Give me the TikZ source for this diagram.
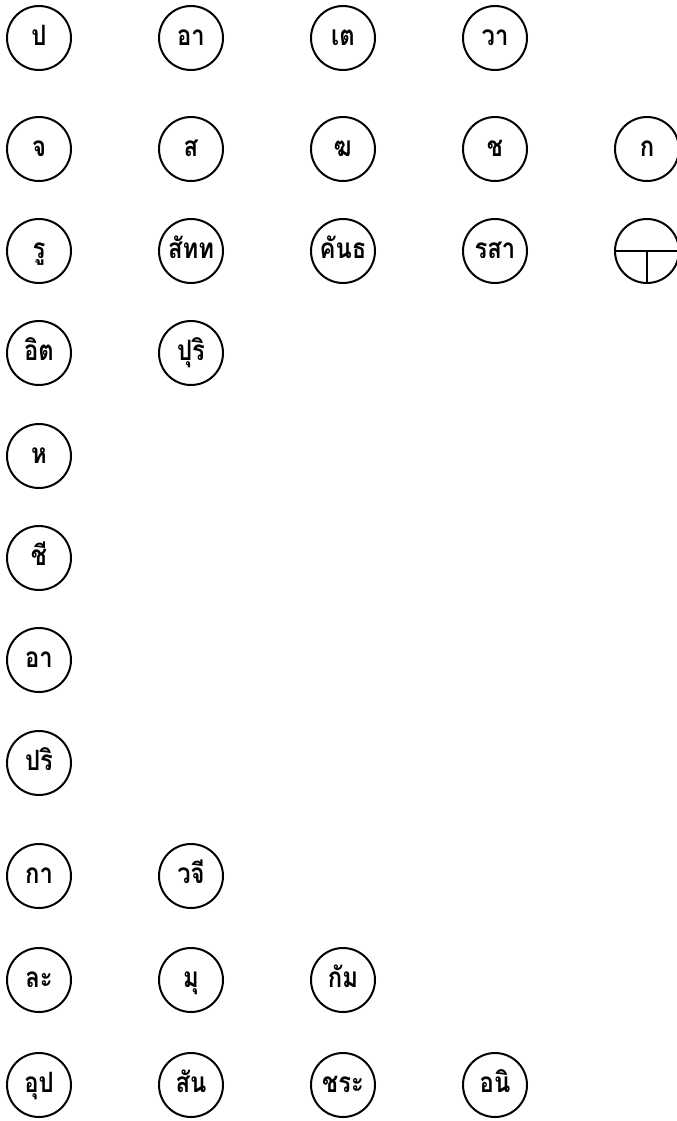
\documentclass[tikz,border=0pt]{standalone}
\usepackage{fontspec}
\newfontfamily\thaifont[Script=Thai,FakeStretch=0.85]{Loma}
\usetikzlibrary{positioning}

\begin{document}
\begin{tikzpicture}[font=\thaifont\bfseries\fontsize{21pt}{24pt}\selectfont,
    unit/.style={draw,circle,line width=1.5pt,minimum size=48pt,inner sep=0pt,
                 text height=11pt,text depth=0pt},
    node distance=76.5pt and 114pt, on grid]
  \useasboundingbox[fill=white] (0,0) rectangle (507pt,-840.75pt);
  % four great elements
  \node[unit] (pa) at (29.25pt,-28.5pt) {ป};
  \node[unit,right=of pa] (apo) {อา};
  \node[unit,right=of apo] (tejo) {เต};
  \node[unit,right=of tejo] (vayo) {วา};
  % sense organs
  \node[unit,below=83.25pt of pa] (cak) {จ};
  \node[unit,right=of cak] (sota) {ส};
  \node[unit,right=of sota] (ghana) {ฆ};
  \node[unit,right=of ghana] (jivha) {ช};
  \node[unit,right=of jivha] (kaya) {ก};
  % sense objects
  \node[unit,below=of cak] (rupa) {รู};
  \node[unit,right=of rupa] (sadda) {สัทท};
  \node[unit,right=of sadda] (gandha) {คันธ};
  \node[unit,right=of gandha] (rasa) {รสา};
  \node[unit,right=of rasa] (photth) {};
  \draw[line width=1.5pt] (photth.west) -- (photth.east);
  \draw[line width=1.5pt] (photth.center) -- (photth.south);
  % left column
  \node[unit,below=of rupa] (itthi) {อิต};
  \node[unit,right=of itthi] (purisa) {ปุริ};
  \node[unit,below=77.25pt of itthi] (hadaya) {ห};
  \node[unit,below=of hadaya] (jivita) {ชี};
  \node[unit,below=of jivita] (ahara) {อา};
  \node[unit,below=77.25pt of ahara] (pariccheda) {ปริ};
  \node[unit,below=84.75pt of pariccheda] (kayavin) {กา};
  \node[unit,right=of kayavin] (vaci) {วจี};
  \node[unit,below=78pt of kayavin] (lahuta) {ละ};
  \node[unit,right=of lahuta] (muduta) {มุ};
  \node[unit,right=of muduta] (kamma) {กัม};
  \node[unit,below=78.75pt of lahuta] (upacaya) {อุป};
  \node[unit,right=of upacaya] (santati) {สัน};
  \node[unit,right=of santati] (jarata) {ชระ};
  \node[unit,right=of jarata] (anicca) {อนิ};
\end{tikzpicture}
\end{document}
